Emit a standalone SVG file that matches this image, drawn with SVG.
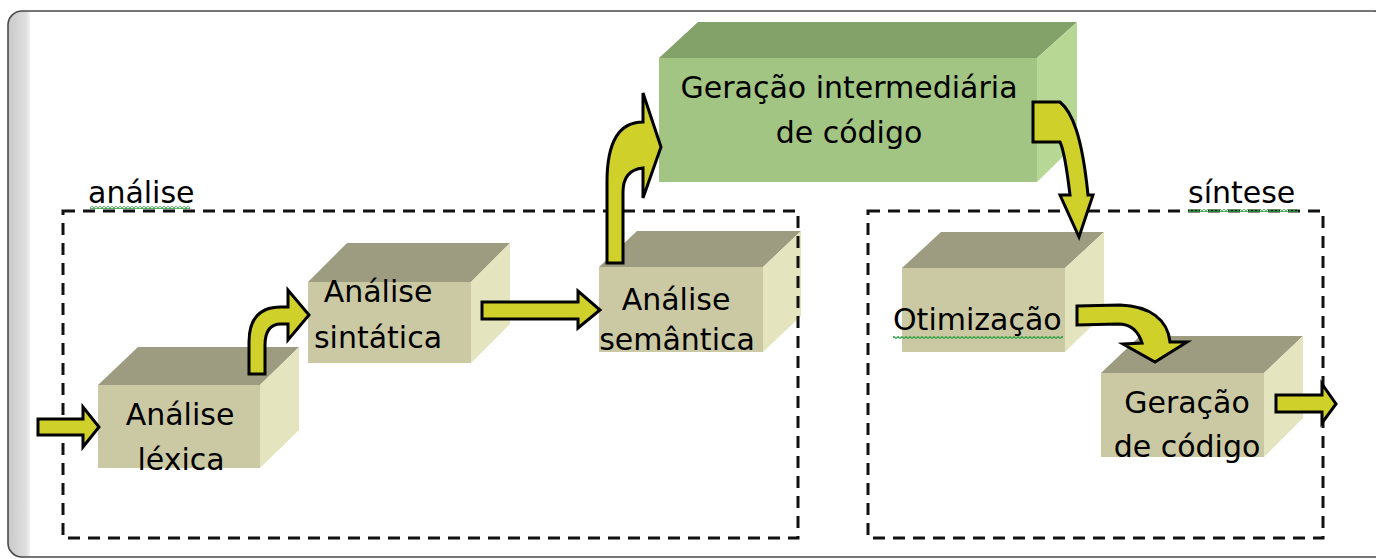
<svg xmlns="http://www.w3.org/2000/svg" width="1376" height="559" viewBox="0 0 1376 559">
<style>
.txt{font-family:"DejaVu Sans","Liberation Sans",sans-serif;font-size:30px;fill:#000;}
.mid{text-anchor:middle;}
.front{fill:#cbc9a4;}
.top{fill:#9d9c80;}
.side{fill:#e4e4bf;}
.gfront{fill:#a2c583;}
.gtop{fill:#82a269;}
.gside{fill:#b7d895;}
.dash{fill:none;stroke:#111;stroke-width:3;stroke-dasharray:12 8;}
.arrow{fill:#d0d02a;stroke:#000;stroke-width:3;stroke-linejoin:miter;}
</style>
<defs>
<clipPath id="frameClip"><rect x="8" y="11" width="1380" height="546" rx="14"/></clipPath>
<linearGradient id="strip" x1="0" x2="1" y1="0" y2="0">
<stop offset="0" stop-color="#c9c9c9"/><stop offset="0.8" stop-color="#dedede"/><stop offset="1" stop-color="#f2f2f2"/>
</linearGradient>
<pattern id="squig" width="4" height="3" patternUnits="userSpaceOnUse">
<path d="M0,2.5 L2,0.5 L4,2.5" fill="none" stroke="#2e9e3e" stroke-width="1.2"/>
</pattern>
</defs>

<g id="frame">
<rect x="8" y="11" width="1380" height="546" rx="14" fill="#fff"/>
<rect x="8" y="11" width="22" height="546" fill="url(#strip)" clip-path="url(#frameClip)"/>
<rect x="8" y="11" width="1380" height="546" rx="14" fill="none" stroke="#4a4a4a" stroke-width="1.6"/>
</g>

<g id="node-lexica">
<rect class="front" x="98" y="385" width="162" height="83"/>
<polygon class="top" points="98,385 138,347 299,347 260,385"/>
<polygon class="side" points="260,385 299,347 299,430 260,468"/>
<text class="txt mid" x="180" y="425">Análise</text>
<text class="txt mid" x="181" y="470">léxica</text>
</g>

<g id="node-sintatica">
<rect class="front" x="308" y="282" width="163" height="81"/>
<polygon class="top" points="308,282 347,243 510,243 471,282"/>
<polygon class="side" points="471,282 510,243 510,324 471,363"/>
<text class="txt mid" x="378" y="302">Análise</text>
<text class="txt mid" x="378" y="348">sintática</text>
</g>

<g id="node-semantica">
<rect class="front" x="599" y="267" width="164" height="85"/>
<polygon class="top" points="599,267 637,231 801,231 763,267"/>
<polygon class="side" points="763,267 801,231 801,316 763,352"/>
<text class="txt mid" x="676" y="310">Análise</text>
<text class="txt mid" x="677" y="350">semântica</text>
</g>

<g id="node-intermediaria">
<rect class="gfront" x="659" y="58" width="378" height="124"/>
<polygon class="gtop" points="659,58 698,22 1077,22 1037,58"/>
<polygon class="gside" points="1037,58 1077,22 1077,143 1037,182"/>
<text class="txt mid" x="849" y="98">Geração intermediária</text>
<text class="txt mid" x="849" y="143">de código</text>
</g>

<g id="node-otimizacao">
<rect class="front" x="902" y="268" width="163" height="84"/>
<polygon class="top" points="902,268 941,232 1104,232 1065,268"/>
<polygon class="side" points="1065,268 1104,232 1104,314 1065,352"/>
<text class="txt" x="893" y="330">Otimização</text>
<rect x="893" y="336" width="170" height="3" fill="url(#squig)"/>
</g>

<g id="node-geracao">
<rect class="front" x="1101" y="373" width="163" height="84"/>
<polygon class="top" points="1101,373 1140,336 1303,336 1264,373"/>
<polygon class="side" points="1264,373 1303,336 1303,418 1264,457"/>
<text class="txt mid" x="1187" y="413">Geração</text>
<text class="txt mid" x="1187" y="457">de código</text>
</g>

<g id="group-analise">
<rect class="dash" x="63" y="211" width="735" height="327"/>
<text class="txt" x="88" y="203">análise</text>
<rect x="90" y="206" width="100" height="3" fill="url(#squig)"/>
</g>

<g id="group-sintese">
<rect class="dash" x="868" y="211" width="455" height="327"/>
<text class="txt" x="1188" y="203">síntese</text>
<rect x="1188" y="209" width="110" height="3" fill="url(#squig)"/>
</g>

<g id="connectors">
<path class="arrow" d="M38,419 L83,419 L83,407 L99,427 L83,447 L83,435 L38,435 Z"/>
<path class="arrow" d="M249,374 L249,342 Q249,307 281,307 L288,307 L288,290 L309,315 L288,340 L288,324 L281,324 Q265,324 265,345 L265,374 Z"/>
<path class="arrow" d="M482,302 L578,302 L578,291 L600,310 L578,328 L578,319 L482,319 Z"/>
<path class="arrow" d="M607,263 L607,182 Q607,122 643,122 L643,93 L661,147 L643,198 L643,168 Q623,170 623,192 L623,263 Z"/>
<path class="arrow" d="M1033,102 L1060,102 C1072,112 1082,135 1088,195 L1093,195 L1079,237 L1060,195 L1070,195 C1067,170 1064,150 1060,142 L1033,142 Z"/>
<path class="arrow" d="M1077,306 L1120,305 C1150,306 1168,320 1170,342 L1187,342 L1155,362 L1123,344 L1142,343 C1138,330 1130,324 1118,324 L1077,325 Z"/>
<path class="arrow" d="M1276,395 L1322,395 L1322,384 L1336,404 L1322,423 L1322,412 L1276,412 Z"/>
</g>
</svg>
